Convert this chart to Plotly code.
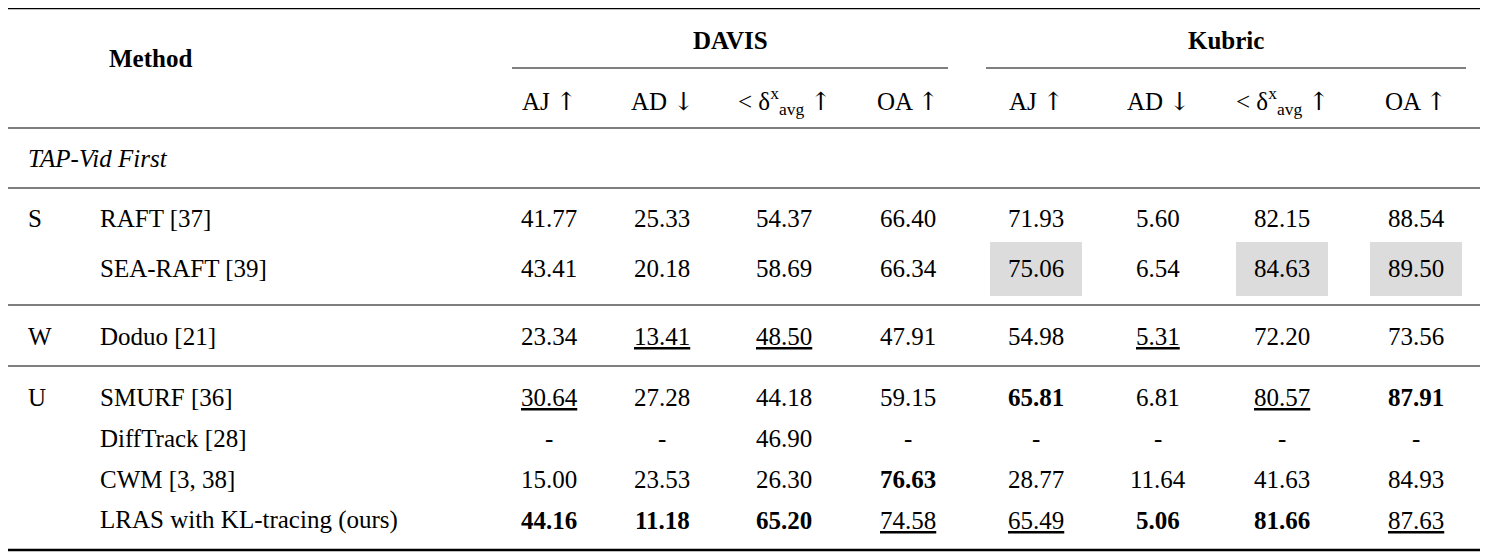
import plotly.graph_objects as go

groups = ["S", "", "W", "U", "", "", ""]
methods = ["RAFT [37]", "SEA-RAFT [39]", "Doduo [21]", "SMURF [36]", "DiffTrack [28]",
           "CWM [3, 38]", "LRAS with KL-tracing (ours)"]
UP = "<span style='font-family:DejaVu Serif'>↑</span>"
DN = "<span style='font-family:DejaVu Serif'>↓</span>"
col_headers = ["AJ " + UP, "AD " + DN, "&lt; δ<sup>x</sup><sub>avg</sub> " + UP, "OA " + UP] * 2
values = [
    ["41.77", "25.33", "54.37", "66.40", "71.93", "5.60", "82.15", "88.54"],
    ["43.41", "20.18", "58.69", "66.34", "75.06", "6.54", "84.63", "89.50"],
    ["23.34", "13.41", "48.50", "47.91", "54.98", "5.31", "72.20", "73.56"],
    ["30.64", "27.28", "44.18", "59.15", "65.81", "6.81", "80.57", "87.91"],
    ["-", "-", "46.90", "-", "-", "-", "-", "-"],
    ["15.00", "23.53", "26.30", "76.63", "28.77", "11.64", "41.63", "84.93"],
    ["44.16", "11.18", "65.20", "74.58", "65.49", "5.06", "81.66", "87.63"],
]
# style: b = bold, u = underline, g = gray highlight
styles = [
    ["", "", "", "", "", "", "", ""],
    ["", "", "", "", "g", "", "g", "g"],
    ["", "u", "u", "", "", "u", "", ""],
    ["u", "", "", "", "b", "", "u", "b"],
    ["", "", "", "", "", "", "", ""],
    ["", "", "", "b", "", "", "", ""],
    ["b", "b", "b", "u", "u", "b", "b", "u"],
]

col_x = [549, 662, 784, 908, 1036, 1158, 1282, 1416]
row_y = [218, 268, 336, 397, 438, 479, 520]
FS = 25
F = "Liberation Serif"
OFF = 8  # page body margin compensation

fig = go.Figure()
ann = []
shapes = []

def t(x, y, s, anchor="center", size=FS):
    ann.append(dict(x=x, y=y, text=s, showarrow=False, xanchor=anchor, yanchor="middle",
                    font=dict(family=F, size=size, color="black")))

def hline(y, x0, x1, w):
    shapes.append(dict(type="line", x0=x0, x1=x1, y0=y, y1=y, line=dict(color="black", width=w)))

hline(8, 8, 1480, 2.5)
hline(68, 512, 948, 1)
hline(68, 986, 1466, 1)
hline(128, 8, 1480, 1.2)
hline(188, 8, 1480, 1.2)
hline(305, 8, 1480, 1.2)
hline(366, 8, 1480, 1.2)
hline(550, 8, 1480, 2.5)

t(150, 58, "<b>Method</b>")
t(730, 40, "<b>DAVIS</b>")
t(1226, 40, "<b>Kubric</b>")
for x, h in zip(col_x, col_headers):
    t(x, 101, h)
t(26, 158, "<i>TAP-Vid First</i>", anchor="left")

for i, y in enumerate(row_y):
    if groups[i]:
        t(26, y, groups[i], anchor="left")
    t(98, y, methods[i], anchor="left")
    for j, x in enumerate(col_x):
        v = values[i][j]
        st = styles[i][j]
        if st == "g":
            shapes.append(dict(type="rect", x0=x - 46, x1=x + 46, y0=y - 26, y1=y + 28,
                               fillcolor="#dcdcdc", line=dict(width=0), layer="below"))
        if st == "b":
            v = "<b>" + v + "</b>"
        elif st == "u":
            v = "<u>" + v + "</u>"
        t(x, y, v)

fig.update_layout(width=1488, height=558, margin=dict(l=0, r=0, t=0, b=0),
                  plot_bgcolor="white", paper_bgcolor="white",
                  xaxis=dict(range=[OFF, 1488 + OFF], visible=False, fixedrange=True),
                  yaxis=dict(range=[558 + OFF, OFF], visible=False, fixedrange=True),
                  annotations=ann, shapes=shapes, showlegend=False)
fig.write_html("out.html", config={"displayModeBar": False})
